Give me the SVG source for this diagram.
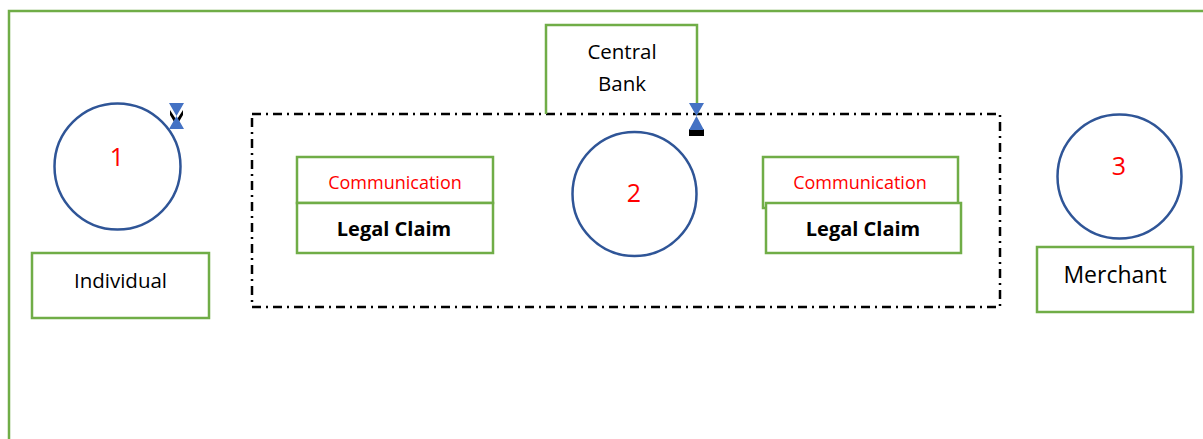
<svg xmlns="http://www.w3.org/2000/svg" width="1203" height="439" viewBox="0 0 1203 439">
<style>
.frame{fill:none;stroke:#70ad47;stroke-width:2.5}
.box{fill:#fff;stroke:#70ad47;stroke-width:2.5}
.circ{fill:#fff;stroke:#2f5597;stroke-width:2.5}
.dash{fill:none;stroke:#000;stroke-width:2.5;stroke-dasharray:9 5 2 5}
.t{font-family:"Open Sans","Liberation Sans",sans-serif;fill:#000;text-anchor:middle}
.num{font-family:"Open Sans","Liberation Sans",sans-serif;fill:#ff0000;text-anchor:middle;font-size:25px}
.comm{font-family:"Open Sans","Liberation Sans",sans-serif;fill:#ff0000;text-anchor:middle;font-size:18px}
.legal{font-family:"Open Sans","Liberation Sans",sans-serif;fill:#000;text-anchor:middle;font-size:20px;font-weight:bold}
.blue{fill:#4472c4}
</style>
<rect x="0" y="0" width="1203" height="439" fill="#fff"/>
<path class="frame" d="M9,445 V11 H1210"/>
<g id="group2">
<rect class="dash" x="252" y="114" width="748" height="193"/>
</g>
<g id="central-bank">
<path class="frame" d="M546,114 V25 H697 V114"/>
<text class="t" x="622" y="59" font-size="20.5">Central</text>
<text class="t" x="622" y="91" font-size="20.5">Bank</text>
</g>
<g id="node1">
<circle class="circ" cx="117.5" cy="166.5" r="63"/>
<text class="num" x="117" y="166">1</text>
</g>
<g id="individual">
<rect class="box" x="32" y="253" width="177" height="65"/>
<text class="t" x="120.5" y="288" font-size="20.5">Individual</text>
</g>
<g id="node2">
<circle class="circ" cx="634.5" cy="194" r="62"/>
<text class="num" x="634" y="202">2</text>
</g>
<g id="comm-left">
<rect class="box" x="297" y="157" width="196" height="46"/>
<text class="comm" x="395" y="189">Communication</text>
</g>
<g id="legal-left">
<rect class="box" x="297" y="203" width="196" height="50"/>
<text class="legal" x="394" y="236">Legal Claim</text>
</g>
<g id="comm-right">
<rect class="box" x="763" y="157" width="195" height="51"/>
<text class="comm" x="860" y="189">Communication</text>
</g>
<g id="legal-right">
<rect class="box" x="766" y="203" width="195" height="50"/>
<text class="legal" x="863" y="236">Legal Claim</text>
</g>
<g id="node3">
<circle class="circ" cx="1119.5" cy="176.5" r="62"/>
<text class="num" x="1119" y="175">3</text>
</g>
<g id="merchant">
<rect class="box" x="1037" y="247" width="156" height="65"/>
<text class="t" x="1115" y="283" font-size="23">Merchant</text>
</g>
<g id="connectors">
<path d="M170,110 L176.5,120 L183,110 L183,115 L176.5,126 L170,115Z" fill="#000"/>
<path class="blue" d="M169,103 H184 L176.5,116 L184,129 H169 L176.5,116Z"/>
<rect x="689" y="129" width="15" height="7" fill="#000"/>
<path class="blue" d="M689,103 H704 L696.5,116 L704,130 H689 L696.5,116Z"/>
</g>
</svg>
